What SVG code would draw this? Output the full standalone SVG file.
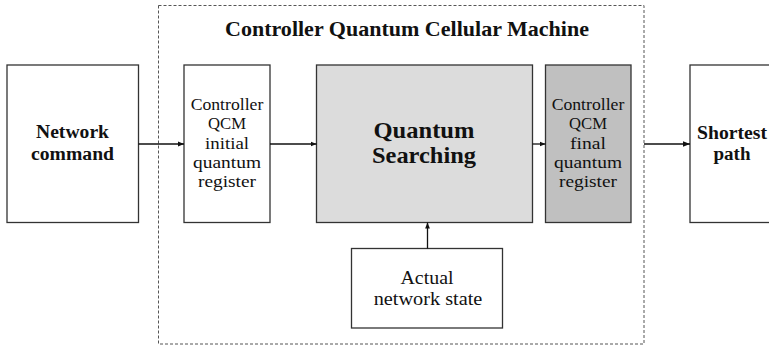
<svg xmlns="http://www.w3.org/2000/svg" width="769" height="347" viewBox="0 0 769 347">
<style>
  .box { stroke: #333; stroke-width: 1.3; }
  .t { font-family: "Liberation Serif", "DejaVu Serif", serif; fill: #111; text-anchor: middle; }
  .b { font-weight: bold; }
  .con { stroke: #111; stroke-width: 1.3; fill: none; }
</style>
<defs>
  <marker id="ah" viewBox="0 0 10 10" refX="10" refY="5" markerWidth="6" markerHeight="6" markerUnits="userSpaceOnUse" orient="auto">
    <path d="M0,1 L10,5 L0,9 Z" fill="#111"/>
  </marker>
  <marker id="ahb" viewBox="0 0 10 10" refX="10" refY="5" markerWidth="7" markerHeight="7" markerUnits="userSpaceOnUse" orient="auto">
    <path d="M0,1 L10,5 L0,9 Z" fill="#111"/>
  </marker>
</defs>
<rect width="769" height="347" fill="#fff"/>

<g id="container">
  <rect x="158.5" y="5.5" width="485.5" height="338.5" fill="none" stroke="#555" stroke-width="1" stroke-dasharray="3 2"/>
  <text class="t b" x="407" y="36" font-size="21" textLength="364" lengthAdjust="spacingAndGlyphs">Controller Quantum Cellular Machine</text>
</g>

<g id="network-command">
  <rect class="box" x="7" y="65" width="131.5" height="157.5" fill="#fff"/>
  <text class="t b" x="72.5" y="138.3" font-size="18" textLength="73" lengthAdjust="spacingAndGlyphs">Network</text>
  <text class="t b" x="72.5" y="160" font-size="18" textLength="83" lengthAdjust="spacingAndGlyphs">command</text>
</g>

<g id="initial-register">
  <rect class="box" x="184" y="65" width="86" height="157.5" fill="#fff"/>
  <text class="t" x="227" y="110" font-size="17" textLength="72.6" lengthAdjust="spacingAndGlyphs">Controller</text>
  <text class="t" x="227" y="129.3" font-size="17" textLength="38" lengthAdjust="spacingAndGlyphs">QCM</text>
  <text class="t" x="227" y="148.5" font-size="17" textLength="44" lengthAdjust="spacingAndGlyphs">initial</text>
  <text class="t" x="227" y="167.8" font-size="17" textLength="68" lengthAdjust="spacingAndGlyphs">quantum</text>
  <text class="t" x="227" y="187" font-size="17" textLength="58" lengthAdjust="spacingAndGlyphs">register</text>
</g>

<g id="quantum-searching">
  <rect class="box" x="316.5" y="65" width="216" height="157.5" fill="#dcdcdc"/>
  <text class="t b" x="424" y="137.5" font-size="23" textLength="101" lengthAdjust="spacingAndGlyphs">Quantum</text>
  <text class="t b" x="424" y="163" font-size="23" textLength="104" lengthAdjust="spacingAndGlyphs">Searching</text>
</g>

<g id="final-register">
  <rect class="box" x="545.5" y="65" width="85.5" height="157.5" fill="#c0c0c0"/>
  <text class="t" x="588" y="110" font-size="17" textLength="72.6" lengthAdjust="spacingAndGlyphs">Controller</text>
  <text class="t" x="588" y="129.3" font-size="17" textLength="38" lengthAdjust="spacingAndGlyphs">QCM</text>
  <text class="t" x="588" y="148.5" font-size="17" textLength="36" lengthAdjust="spacingAndGlyphs">final</text>
  <text class="t" x="588" y="167.8" font-size="17" textLength="68" lengthAdjust="spacingAndGlyphs">quantum</text>
  <text class="t" x="588" y="187" font-size="17" textLength="58" lengthAdjust="spacingAndGlyphs">register</text>
</g>

<g id="shortest-path">
  <rect class="box" x="690" y="65" width="86" height="157.5" fill="#fff"/>
  <text class="t b" x="732" y="139" font-size="18" textLength="70" lengthAdjust="spacingAndGlyphs">Shortest</text>
  <text class="t b" x="732" y="160" font-size="18" textLength="37" lengthAdjust="spacingAndGlyphs">path</text>
</g>

<g id="actual-network-state">
  <rect class="box" x="351.5" y="248.5" width="151" height="79.5" fill="#fff"/>
  <text class="t" x="427" y="284.3" font-size="18" textLength="53" lengthAdjust="spacingAndGlyphs">Actual</text>
  <text class="t" x="428" y="305" font-size="18" textLength="108.7" lengthAdjust="spacingAndGlyphs">network state</text>
</g>

<g id="connectors">
  <line class="con" x1="138.5" y1="144" x2="184" y2="144" marker-end="url(#ah)"/>
  <line class="con" x1="270" y1="144" x2="316.5" y2="144" marker-end="url(#ah)"/>
  <line class="con" x1="532.5" y1="144" x2="545.5" y2="144" marker-end="url(#ah)"/>
  <line class="con" x1="644" y1="144" x2="690" y2="144" stroke-width="2" marker-end="url(#ahb)"/>
  <line class="con" x1="427.5" y1="248.5" x2="427.5" y2="222.5" stroke-width="1.6" marker-end="url(#ah)"/>
</g>
</svg>
